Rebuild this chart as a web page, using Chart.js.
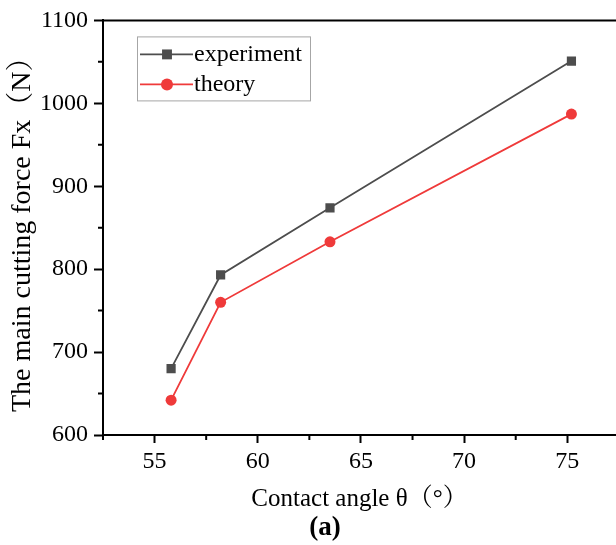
<!DOCTYPE html>
<html><head><meta charset="utf-8">
<script src="https://cdn.jsdelivr.net/npm/chart.js@4/dist/chart.umd.min.js"></script>
<style>
html,body{margin:0;padding:0;background:#fff;}
#wrap{position:relative;width:616px;height:545px;overflow:hidden;}
#lbl{position:absolute;left:275px;width:100px;top:510px;text-align:center;font:bold 27px "Liberation Serif","Times New Roman",serif;color:#000;line-height:32px;}
</style></head><body>
<div id="wrap"><canvas id="c" width="616" height="545"></canvas><div id="lbl">(a)</div></div>
<script>
// ---- data ----
const contactAngle = [55.8, 58.2, 63.5, 75.2];
const experiment = [680, 793, 874, 1051];
const theory = [642, 760, 833, 987];
const seriesNames = ['experiment', 'theory'];
const xTicks = [55, 60, 65, 70, 75];
const yTicks = [600, 700, 800, 900, 1000, 1100];
const xMinor = [52.5, 57.5, 62.5, 67.5, 72.5];
const yMinor = [650, 750, 850, 950, 1050];
const xTitle = 'Contact angle θ（°）';
const yTitle = 'The main cutting force Fx（N）';

const SERIF = "'Liberation Serif','Times New Roman','Noto Serif CJK SC','Noto Sans CJK SC',serif";
const colExp = '#4d4d4d';
const colThe = '#ef3a3a';

const toPts = (xs, ys) => xs.map((v, i) => ({x: v, y: ys[i]}));

const framePlugin = {
  id: 'frame',
  afterDraw(chart) {
    const {ctx, chartArea: a, scales: {x, y}} = chart;
    ctx.save();
    ctx.strokeStyle = '#000';
    ctx.lineWidth = 2;
    ctx.beginPath();
    ctx.moveTo(a.left - 1, a.top);
    ctx.lineTo(a.right, a.top);
    ctx.stroke();
    ctx.beginPath();
    xMinor.forEach(v => { const p = x.getPixelForValue(v); ctx.moveTo(p, a.bottom); ctx.lineTo(p, a.bottom + 5); });
    yMinor.forEach(v => { const p = y.getPixelForValue(v); ctx.moveTo(a.left, p); ctx.lineTo(a.left - 5, p); });
    ctx.stroke();

    // legend box
    const bx = a.left + 34, by = a.top + 16, bw = 173, bh = 64;
    ctx.lineWidth = 1;
    ctx.strokeStyle = '#a6a6a6';
    ctx.strokeRect(bx + 0.5, by + 0.5, bw, bh);
    const ds = chart.data.datasets;
    ds.forEach((d, i) => {
      const cy = by + 18 + i * 30;
      ctx.strokeStyle = d.borderColor;
      ctx.lineWidth = 1.6;
      ctx.beginPath();
      ctx.moveTo(bx + 3, cy);
      ctx.lineTo(bx + 56, cy);
      ctx.stroke();
      const opts = {pointStyle: d.pointStyle, radius: d.pointRadius + 0.5, borderWidth: 0, rotation: 0};
      ctx.fillStyle = d.pointBackgroundColor;
      ctx.strokeStyle = d.pointBackgroundColor;
      if (Chart.helpers && Chart.helpers.drawPoint) {
        Chart.helpers.drawPoint(ctx, opts, bx + 30, cy);
      }
      ctx.fillStyle = '#000';
      ctx.font = '24px ' + SERIF;
      ctx.textBaseline = 'middle';
      ctx.textAlign = 'left';
      ctx.fillText(d.label, bx + 57, cy);
    });
    ctx.restore();
  }
};

const tickFont = {family: SERIF, size: 24};

new Chart(document.getElementById('c'), {
  type: 'scatter',
  data: {
    datasets: [
      {label: seriesNames[0], data: toPts(contactAngle, experiment), showLine: true,
       borderColor: colExp, borderWidth: 1.8, pointStyle: 'rect', pointRadius: 6.5,
       pointBackgroundColor: colExp, pointBorderColor: colExp, pointBorderWidth: 0, pointHoverRadius: 6.5},
      {label: seriesNames[1], data: toPts(contactAngle, theory), showLine: true,
       borderColor: colThe, borderWidth: 1.8, pointStyle: 'circle', pointRadius: 5.5,
       pointBackgroundColor: colThe, pointBorderColor: colThe, pointBorderWidth: 0, pointHoverRadius: 5.5}
    ]
  },
  options: {
    responsive: false,
    animation: false,
    events: [],
    layout: {autoPadding: false, padding: {top: 19, right: 0, bottom: 0, left: 0}},
    plugins: {legend: {display: false}, tooltip: {enabled: false}, title: {display: false}},
    scales: {
      x: {
        type: 'linear', min: 52.5, max: 77.36,
        afterBuildTicks: s => { s.ticks = xTicks.map(v => ({value: v})); },
        afterFit: s => { s.height = 110; },
        grid: {display: true, drawOnChartArea: false, drawTicks: true, tickLength: 8, tickWidth: 2, tickColor: '#000'},
        border: {display: true, color: '#000', width: 2},
        ticks: {font: tickFont, color: '#000', padding: 4, maxRotation: 0, autoSkip: false,
                callback: v => String(v)},
        title: {display: true, text: xTitle, font: {family: SERIF, size: 25}, color: '#000', padding: {top: 0, bottom: 31}}
      },
      y: {
        type: 'linear', min: 600, max: 1100,
        afterBuildTicks: s => { s.ticks = yTicks.map(v => ({value: v})); },
        afterFit: s => { s.width = 103; },
        grid: {display: true, drawOnChartArea: false, drawTicks: true, tickLength: 9, tickWidth: 2, tickColor: '#000'},
        border: {display: true, color: '#000', width: 2},
        ticks: {font: tickFont, color: '#000', padding: 6, autoSkip: false, callback: v => String(v)},
        title: {display: true, text: yTitle, font: {family: SERIF, size: 28}, color: '#000', padding: {top: 6, bottom: 0}}
      }
    }
  },
  plugins: [framePlugin]
});
</script>
</body></html>
